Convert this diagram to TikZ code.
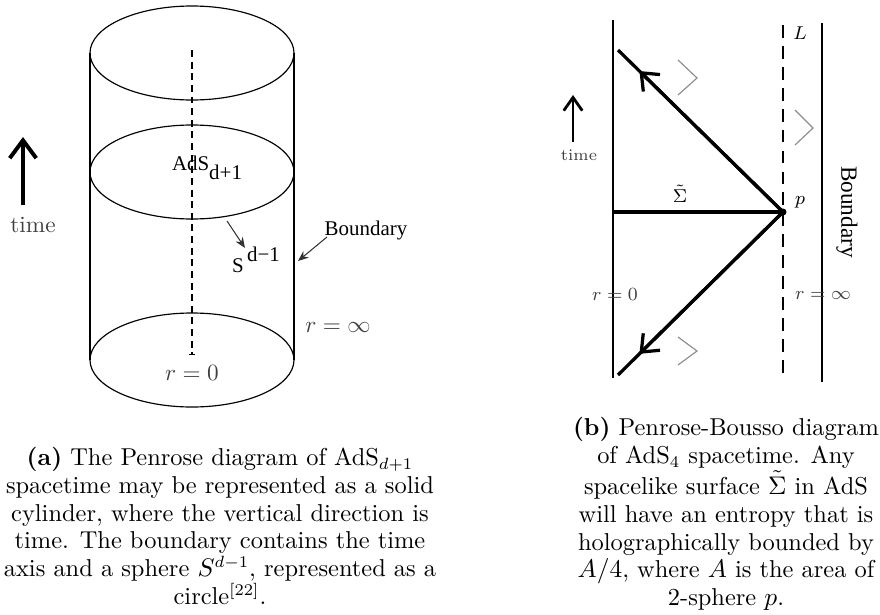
\documentclass[tikz,border=0pt]{standalone}
\usepackage{fontspec}
\newfontfamily\timesf{Liberation Serif}
\usepackage{amsmath,amssymb}
\usepackage{tikz}
\usetikzlibrary{arrows.meta,calc}
\tikzset{
  rim/.style={line width=0.5pt},
  wall/.style={line width=0.6pt},
  axisln/.style={line width=0.6pt,dash pattern=on 3pt off 2pt,-{Bar[width=3pt]}},
  timearr/.style={-{Straight Barb[length=2.7mm,width=4mm]},line width=1.7pt},
  stimearr/.style={-{Straight Barb[length=2mm,width=2.8mm]},line width=1.2pt},
  ptr/.style={-{Stealth[length=1.6mm,width=1.3mm]},line width=0.45pt,black!80},
  tlab/.style={font=\timesf\fontsize{9}{10}\selectfont,inner sep=0pt},
  cmlab/.style={text=black!75,inner sep=0pt},
  sml/.style={text=black!75,font=\footnotesize,inner sep=0pt},
  wline/.style={line width=0.9pt},
  horizon/.style={line width=1.2pt,dash pattern=on 5.5pt off 3.5pt},
  nullray/.style={line width=1.4pt},
  rayhead/.style={nullray,-{Straight Barb[length=2.2mm,width=3.6mm]}},
  chev/.style={black!45,line width=0.5pt},
  captxt/.style={align=center,font=\fontsize{10.5}{12}\selectfont,inner sep=0pt},
}
\begin{document}
\begin{tikzpicture}[x=0.43pt,y=-0.43pt]
  \useasboundingbox (0,0) rectangle (880,614);
  % (a) cylinder
  \draw[rim] (192,53) ellipse (102 and 47);
  \draw[rim] (192,172) ellipse (102 and 47);
  \draw[rim] (192,360) ellipse (102 and 47);
  \draw[wall] (90,53) -- (90,360);
  \draw[wall] (294,53) -- (294,360);
  \draw[axisln] (192,50) -- (192,355);
  \coordinate (ta) at (23,205);
  \coordinate (tb) at (23,137);
  \draw[timearr] (ta) -- (tb);
  \node[cmlab] (time) at (33,225) {time};
  \node[tlab] (ads) at (207,168) {AdS\raisebox{-4pt}{d+1}};
  \node[tlab] (sph) at (256,260) {S\raisebox{5pt}{\,d−1}};
  \node[tlab] (bdry) at (366,230) {Boundary};
  \coordinate (s0) at (227,221);
  \coordinate (s1) at (245,248);
  \draw[ptr] (s0) -- (s1);
  \coordinate (b0) at (327,237);
  \coordinate (b1) at (298,261);
  \draw[ptr] (b0) -- (b1);
  \node[cmlab] (rinf) at (338,327) {$r=\infty$};
  \node[cmlab] (rzero) at (192,373) {$r=0$};
  % (b) Penrose-Bousso
  \draw[wline] (613,20) -- (613,378);
  \draw[horizon] (783,25) -- (783,380);
  \draw[wline] (822,23) -- (822,382);
  \coordinate (p) at (783,212);
  \coordinate (utop) at (618,50);
  \coordinate (ubot) at (618,375);
  \coordinate (orig) at (613,212);
  \draw[nullray] (orig) -- (p);
  \draw[nullray] (p) -- (utop);
  \draw[nullray] (p) -- (ubot);
  \draw[rayhead] (p) -- ($(p)!0.87!(utop)$);
  \draw[rayhead] (p) -- ($(p)!0.87!(ubot)$);
  \fill (p) circle (3.5);
  \draw[chev] (678,60) -- (697,78) -- (678,95);
  \draw[chev] (795,110) -- (813,128) -- (795,145);
  \draw[chev] (678,337) -- (697,351) -- (678,365);
  \coordinate (tc) at (573,142);
  \coordinate (td) at (573,95);
  \draw[stimearr] (tc) -- (td);
  \node[sml,font=\scriptsize] (time2) at (579,155) {time};
  \node[sml,text=black] (sig) at (680,194) {$\tilde\Sigma$};
  \node[sml,text=black] (plab) at (800,202) {$p$};
  \node[sml,text=black] (llab) at (800,33) {$L$};
  \node[sml] (r0) at (615,294) {$r=0$};
  \node[sml] (rinf2) at (823,295) {$r=\infty$};
  \node[font=\timesf\fontsize{10}{12}\selectfont,rotate=-90,inner sep=0pt] (bdry2) at (847,212) {Boundary};
  % captions
  \node[captxt] (capa) at (220,526) {\textbf{(a)} The Penrose diagram of AdS$_{d+1}$\\
    spacetime may be represented as a solid\\
    cylinder, where the vertical direction is\\
    time. The boundary contains the time\\
    axis and a sphere $S^{d-1}$, represented as a\\
    circle$^{[22]}$.};
  \node[captxt] (capb) at (726,514) {\textbf{(b)} Penrose-Bousso diagram\\
    of AdS$_4$ spacetime. Any\\
    spacelike surface $\tilde\Sigma$ in AdS\\
    will have an entropy that is\\
    holographically bounded by\\
    $A/4$, where $A$ is the area of\\
    2-sphere $p$.};
\end{tikzpicture}
\end{document}
